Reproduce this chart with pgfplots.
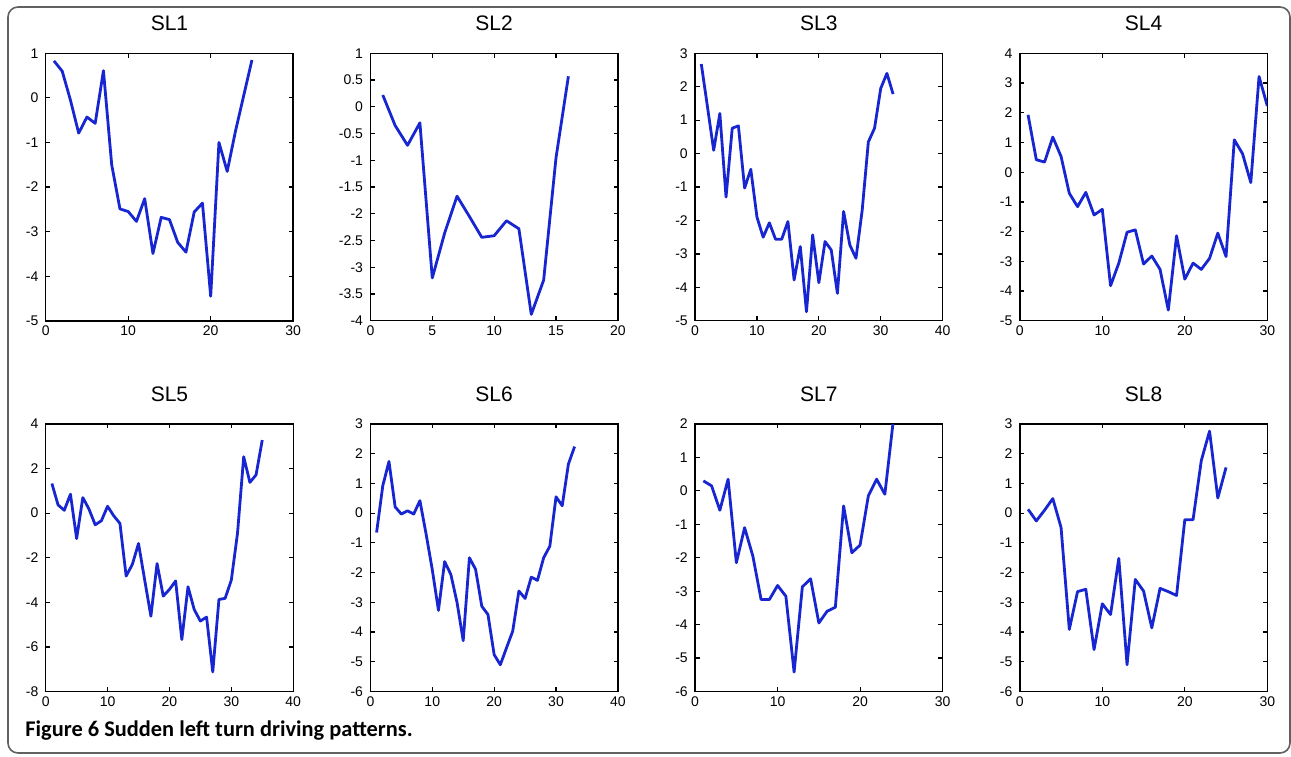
\documentclass[border=0pt]{standalone}
\usepackage{fontspec}
\setmainfont{Liberation Sans}
\newfontfamily\capfont{Carlito}
\usepackage{pgfplots}
\pgfplotsset{compat=1.18}

\definecolor{tracecol}{rgb}{0.09,0.15,0.82}
\definecolor{framegray}{rgb}{0.38,0.38,0.38}

\pgfplotsset{
  panel/.style={
    scale only axis,
    width=123.75pt, height=133.75pt,
    anchor=north west,
    axis line style={line width=0.7pt, black},
    tick align=inside,
    tick pos=both,
    major tick length=2.2pt,
    every tick/.style={black, line width=0.6pt},
    /pgf/number format/assume math mode=true,
    tick label style={font=\fontsize{7}{8}\selectfont},
    xticklabel style={inner sep=0pt, yshift=-2.2pt},
    yticklabel style={inner sep=0pt, xshift=-3.5pt},
    title style={font=\fontsize{10.5}{12}\selectfont, at={(0.5,1)}, anchor=center, yshift=9pt},
    clip=true,
  },
  sigline/.style={tracecol, line width=1.4pt, mark=none, line join=round},
}

\begin{document}
\begin{tikzpicture}
\useasboundingbox (0,0) rectangle (645.5pt,-378pt);
\draw[framegray, line width=0.8pt, rounded corners=5pt] (4pt,-3.5pt) rectangle (645pt,-376.5pt);

% ---- top row ----
\begin{axis}[panel, at={(22.85pt,-26.65pt)}, title={SL1},
  xmin=0, xmax=30, xtick={0,10,20,30},
  ymin=-5, ymax=1, ytick={-5,-4,...,1}]
\addplot[sigline] coordinates {
(1,0.83) (2,0.60) (3,-0.05) (4,-0.79) (5,-0.43) (6,-0.57) (7,0.61) (8,-1.5)
(9,-2.49) (10,-2.55) (11,-2.77) (12,-2.26) (13,-3.49) (14,-2.68) (15,-2.73)
(16,-3.24) (17,-3.46) (18,-2.56) (19,-2.36) (20,-4.45) (21,-1.0) (22,-1.65)
(23,-0.75) (24,0.05) (25,0.85)};
\end{axis}

\begin{axis}[panel, at={(185.2pt,-26.65pt)}, title={SL2},
  xmin=0, xmax=20, xtick={0,5,10,15,20},
  ymin=-4, ymax=1, ytick={-4,-3.5,...,1}]
\addplot[sigline] coordinates {
(1,0.22) (2,-0.35) (3,-0.72) (4,-0.30) (5,-3.2) (6,-2.36) (7,-1.67) (8,-2.05)
(9,-2.44) (10,-2.41) (11,-2.13) (12,-2.28) (13,-3.88) (14,-3.24) (15,-0.95)
(16,0.57)};
\end{axis}

\begin{axis}[panel, at={(347.55pt,-26.65pt)}, title={SL3},
  xmin=0, xmax=40, xtick={0,10,20,30,40},
  ymin=-5, ymax=3, ytick={-5,-4,...,3}]
\addplot[sigline] coordinates {
(1,2.68) (2,1.4) (3,0.1) (4,1.2) (5,-1.3) (6,0.76) (7,0.83) (8,-1.03)
(9,-0.47) (10,-1.9) (11,-2.5) (12,-2.07) (13,-2.56) (14,-2.56) (15,-2.03)
(16,-3.78) (17,-2.78) (18,-4.73) (19,-2.43) (20,-3.86) (21,-2.63) (22,-2.88)
(23,-4.18) (24,-1.73) (25,-2.73) (26,-3.13) (27,-1.7) (28,0.35) (29,0.76)
(30,1.95) (31,2.4) (32,1.78)};
\end{axis}

\begin{axis}[panel, at={(509.9pt,-26.65pt)}, title={SL4},
  xmin=0, xmax=30, xtick={0,10,20,30},
  ymin=-5, ymax=4, ytick={-5,-4,...,4}]
\addplot[sigline] coordinates {
(1,1.93) (2,0.42) (3,0.34) (4,1.18) (5,0.53) (6,-0.71) (7,-1.16) (8,-0.68)
(9,-1.44) (10,-1.25) (11,-3.82) (12,-3.06) (13,-2.02) (14,-1.94) (15,-3.09)
(16,-2.82) (17,-3.27) (18,-4.64) (19,-2.14) (20,-3.6) (21,-3.06) (22,-3.27)
(23,-2.9) (24,-2.05) (25,-2.84) (26,1.09) (27,0.62) (28,-0.35) (29,3.22)
(30,2.23)};
\end{axis}

% ---- bottom row ----
\begin{axis}[panel, at={(22.85pt,-212pt)}, title={SL5},
  xmin=0, xmax=40, xtick={0,10,20,30,40},
  ymin=-8, ymax=4, ytick={-8,-6,...,4}]
\addplot[sigline] coordinates {
(1,1.33) (2,0.37) (3,0.13) (4,0.85) (5,-1.14) (6,0.7) (7,0.18) (8,-0.52)
(9,-0.34) (10,0.31) (11,-0.12) (12,-0.46) (13,-2.82) (14,-2.3) (15,-1.36)
(16,-3.0) (17,-4.62) (18,-2.26) (19,-3.72) (20,-3.42) (21,-3.04) (22,-5.67)
(23,-3.3) (24,-4.32) (25,-4.84) (26,-4.66) (27,-7.12) (28,-3.87) (29,-3.82)
(30,-3.0) (31,-0.9) (32,2.53) (33,1.38) (34,1.72) (35,3.28)};
\end{axis}

\begin{axis}[panel, at={(185.2pt,-212pt)}, title={SL6},
  xmin=0, xmax=40, xtick={0,10,20,30,40},
  ymin=-6, ymax=3, ytick={-6,-5,...,3}]
\addplot[sigline] coordinates {
(1,-0.65) (2,0.92) (3,1.74) (4,0.21) (5,-0.03) (6,0.08) (7,-0.03) (8,0.42)
(9,-0.7) (10,-1.9) (11,-3.27) (12,-1.63) (13,-2.06) (14,-3.0) (15,-4.29)
(16,-1.5) (17,-1.89) (18,-3.13) (19,-3.41) (20,-4.76) (21,-5.1) (22,-4.53)
(23,-3.97) (24,-2.62) (25,-2.87) (26,-2.15) (27,-2.26) (28,-1.5) (29,-1.11)
(30,0.55) (31,0.25) (32,1.65) (33,2.24)};
\end{axis}

\begin{axis}[panel, at={(347.55pt,-212pt)}, title={SL7},
  xmin=0, xmax=30, xtick={0,10,20,30},
  ymin=-6, ymax=2, ytick={-6,-5,...,2}]
\addplot[sigline] coordinates {
(1,0.3) (2,0.15) (3,-0.58) (4,0.35) (5,-2.15) (6,-1.1) (7,-1.95) (8,-3.25)
(9,-3.25) (10,-2.83) (11,-3.15) (12,-5.42) (13,-2.87) (14,-2.63) (15,-3.95)
(16,-3.6) (17,-3.48) (18,-0.45) (19,-1.85) (20,-1.62) (21,-0.15) (22,0.35)
(23,-0.1) (24,2.05)};
\end{axis}

\begin{axis}[panel, at={(509.9pt,-212pt)}, title={SL8},
  xmin=0, xmax=30, xtick={0,10,20,30},
  ymin=-6, ymax=3, ytick={-6,-5,...,3}]
\addplot[sigline] coordinates {
(1,0.13) (2,-0.26) (3,0.1) (4,0.49) (5,-0.48) (6,-3.91) (7,-2.64) (8,-2.56)
(9,-4.59) (10,-3.05) (11,-3.41) (12,-1.52) (13,-5.1) (14,-2.23) (15,-2.62)
(16,-3.86) (17,-2.53) (18,-2.64) (19,-2.77) (20,-0.22) (21,-0.22) (22,1.77)
(23,2.76) (24,0.51) (25,1.54)};
\end{axis}

\node[anchor=base west, inner sep=0pt, font=\capfont\bfseries\fontsize{11.2}{13}\selectfont]
  at (12.5pt,-368.3pt) {Figure 6 Sudden left turn driving patterns.};
\end{tikzpicture}
\end{document}
